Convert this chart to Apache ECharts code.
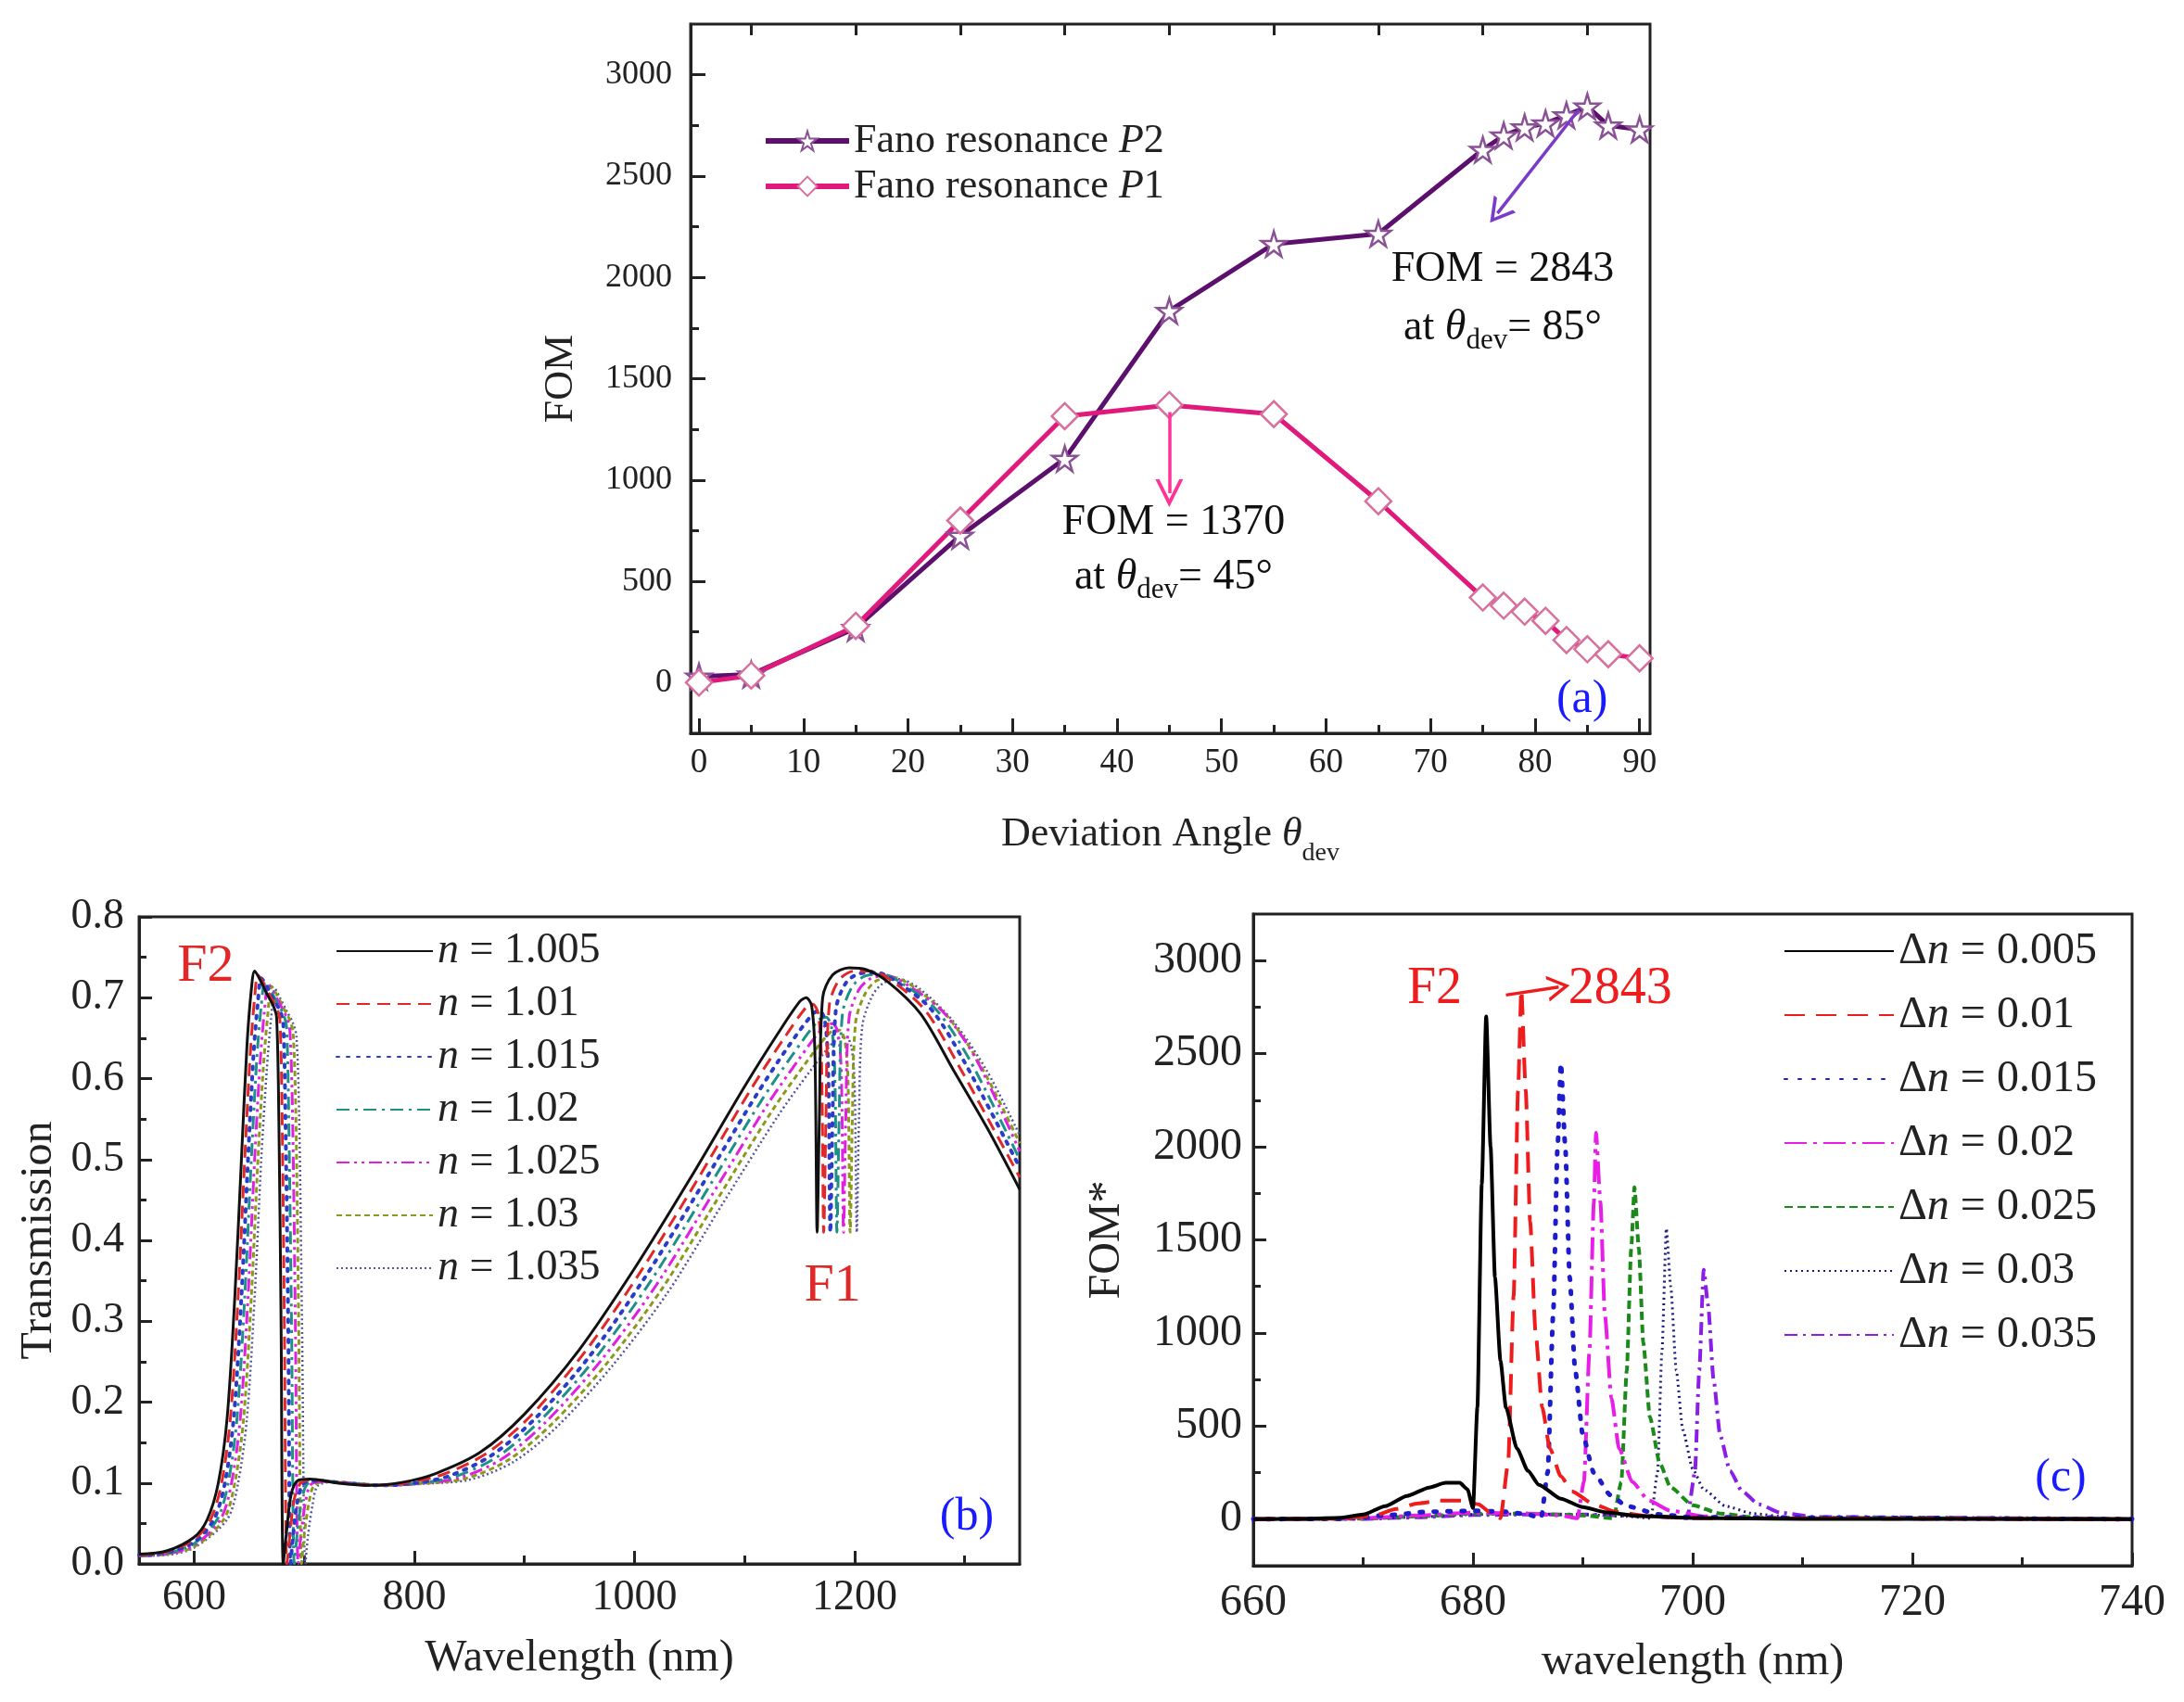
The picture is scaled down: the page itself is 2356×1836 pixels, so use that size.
<!DOCTYPE html>
<html>
<head>
<meta charset="utf-8">
<script src="https://cdn.jsdelivr.net/npm/echarts@6/dist/echarts.min.js"></script>
<style>
html,body{margin:0;padding:0;background:#fff;}
#chart{width:2356px;height:1836px;}
</style>
</head>
<body>
<div id="chart"></div>
<script>
// ---------- Panel (a) data ----------
const angleDeg = [0, 5, 15, 25, 35, 45, 55, 65, 75, 77, 79, 81, 83, 85, 87, 90];
const fomP2 = [30, 40, 270, 725, 1105, 1835, 2165, 2215, 2630, 2700, 2740, 2760, 2800, 2843, 2750, 2730];
const fomP1 = [0, 35, 280, 800, 1315, 1370, 1325, 895, 420, 380, 350, 305, 210, 165, 140, 120];
const angleMajorTicks = [0, 10, 20, 30, 40, 50, 60, 70, 80, 90];
const angleMinorTicks = [5, 15, 25, 35, 45, 55, 65, 75, 85];
const fomMajorTicks = [0, 500, 1000, 1500, 2000, 2500, 3000];
const fomMinorTicks = [250, 750, 1250, 1750, 2250, 2750];

// ---------- Panel (b) data: transmission spectra [wavelength nm, T] ----------
const transN1005 = [[550,.012],[575,.016],[600,.033],[612,.055],[622,.1],[630,.18],[637,.33],[643,.5],[648,.64],[652,.71],[655,.733],[660,.722],[666,.705],[672,.69],[675,.675],[677,.55],[679,.3],[681,0],[684,.04],[688,.085],[694,.103],[705,.105],[730,.1],[760,.097],[790,.101],[820,.112],[860,.138],[900,.185],[950,.265],[1000,.365],[1050,.475],[1100,.59],[1130,.655],[1150,.695],[1156,.7],[1161,.69],[1164,.63],[1166,.41],[1168,.55],[1171,.7],[1180,.728],[1195,.737],[1210,.735],[1230,.72],[1260,.68],[1290,.61],[1320,.54],[1350,.463]];
const transN1010 = [[550,.011],[575,.015],[600,.03],[615,.055],[625,.1],[633,.18],[640,.33],[646,.5],[651,.63],[655,.7],[658,.728],[663,.718],[669,.702],[675,.688],[678,.672],[680,.55],[682,.3],[684.3,0],[687,.035],[691,.08],[697,.1],[708,.104],[732,.1],[762,.097],[792,.1],[825,.11],[865,.136],[905,.182],[955,.262],[1005,.36],[1055,.47],[1105,.585],[1135,.648],[1157,.69],[1162,.692],[1167,.68],[1170,.62],[1172,.41],[1174,.55],[1177,.69],[1186,.722],[1200,.733],[1215,.733],[1235,.72],[1265,.683],[1295,.615],[1350,.478]];
const transN1015 = [[550,.011],[575,.014],[600,.027],[618,.055],[628,.1],[636,.18],[643,.33],[649,.5],[654,.63],[658,.695],[661,.724],[666,.714],[672,.698],[678,.684],[681,.668],[683,.55],[685.5,.3],[687.6,0],[690,.035],[694,.078],[700,.1],[712,.103],[735,.1],[765,.097],[795,.099],[830,.108],[870,.134],[910,.18],[960,.258],[1010,.355],[1060,.465],[1110,.578],[1140,.64],[1162,.68],[1168,.684],[1173,.672],[1176,.615],[1178,.41],[1180,.55],[1183,.685],[1192,.718],[1205,.73],[1220,.731],[1240,.718],[1270,.685],[1300,.62],[1350,.49]];
const transN1020 = [[550,.01],[575,.013],[600,.025],[621,.055],[631,.1],[639,.18],[646,.33],[652,.5],[657,.625],[661,.69],[664.5,.72],[669,.71],[675,.695],[681,.68],[684,.664],[686,.55],[688.5,.3],[691,0],[693.5,.035],[697.5,.077],[703,.099],[715,.103],[738,.1],[768,.097],[798,.099],[835,.107],[875,.132],[915,.178],[965,.255],[1015,.35],[1065,.46],[1115,.572],[1145,.632],[1167,.672],[1174,.676],[1179,.664],[1182,.61],[1184,.41],[1186,.55],[1189,.68],[1198,.714],[1210,.727],[1225,.729],[1245,.716],[1275,.684],[1305,.622],[1350,.5]];
const transN1025 = [[550,.01],[575,.012],[600,.023],[624,.055],[634,.1],[642,.18],[649,.33],[655,.5],[660,.62],[664,.685],[667.5,.717],[672,.707],[678,.692],[684,.676],[687,.66],[689.5,.55],[692,.3],[694.5,0],[697,.035],[701,.075],[706,.098],[718,.102],[741,.1],[771,.097],[801,.099],[840,.106],[880,.13],[920,.176],[970,.252],[1020,.345],[1070,.455],[1120,.566],[1150,.625],[1172,.664],[1180,.668],[1185,.656],[1188,.605],[1190,.41],[1192,.55],[1195,.675],[1204,.71],[1215,.724],[1230,.727],[1250,.714],[1280,.683],[1310,.625],[1350,.51]];
const transN1030 = [[550,.01],[575,.012],[600,.021],[627,.055],[637,.1],[645,.18],[652,.33],[658,.5],[663,.615],[667,.68],[670.5,.714],[675,.704],[681,.688],[687,.672],[690,.656],[692.5,.55],[695,.3],[697.6,0],[700,.035],[704,.073],[709,.097],[721,.102],[744,.1],[774,.097],[804,.099],[845,.105],[885,.128],[925,.173],[975,.248],[1025,.34],[1075,.45],[1125,.56],[1155,.618],[1177,.656],[1186,.66],[1191,.648],[1194,.6],[1196,.41],[1198,.55],[1201,.67],[1210,.706],[1220,.721],[1235,.725],[1255,.712],[1285,.676],[1315,.615],[1350,.52]];
const transN1035 = [[550,.01],[575,.011],[600,.02],[630,.055],[640,.1],[648,.18],[655,.33],[661,.5],[666,.61],[670,.675],[673.5,.711],[678,.7],[684,.684],[690,.668],[693,.652],[695.5,.55],[698,.3],[701,0],[703.5,.035],[707.5,.072],[712,.096],[724,.101],[747,.1],[777,.097],[807,.099],[850,.104],[890,.126],[930,.17],[980,.245],[1030,.335],[1080,.445],[1130,.553],[1160,.61],[1183,.648],[1192,.652],[1197,.64],[1200,.595],[1202,.41],[1204,.55],[1207,.665],[1216,.702],[1226,.718],[1240,.723],[1260,.71],[1290,.67],[1320,.61],[1350,.53]];
const transNames = ['n = 1.005','n = 1.01','n = 1.015','n = 1.02','n = 1.025','n = 1.03','n = 1.035'];
const waveMajorTicks = [600, 800, 1000, 1200];
const waveMinorTicks = [700, 900, 1100, 1300];

// ---------- Panel (c) data: FOM* spectra [wavelength nm, FOM*] ----------
const fomDn005 = [[660,0],[665,2],[668,8],[670,25],[672,70],[674,125],[676,170],[677.5,195],[678.8,195],[679.5,160],[680,60],[680.4,600],[680.8,1800],[681.2,2700],[681.6,2000],[682,1300],[682.5,850],[683,600],[684,380],[685,260],[686,185],[688,110],[690,65],[692,38],[695,18],[700,7],[710,2],[740,0]];
const fomDn010 = [[660,0],[668,3],[671,20],[673,55],[675,85],[677,100],[679,100],[680.5,80],[681.5,40],[682.5,5],[683.2,300],[683.7,1200],[684.1,2300],[684.4,2843],[684.8,2300],[685.2,1600],[685.7,1000],[686.3,600],[687,380],[688,230],[689,150],[691,80],[693,40],[696,15],[700,5],[740,0]];
const fomDn015 = [[660,0],[668,2],[672,20],[676,40],[680,45],[683,40],[685,25],[686.2,5],[686.8,250],[687.3,1100],[687.7,2000],[688,2450],[688.4,2000],[688.8,1300],[689.3,800],[690,450],[691,250],[692.5,130],[694,70],[697,25],[700,10],[740,0]];
const fomDn020 = [[660,0],[670,5],[675,20],[680,35],[685,30],[688,20],[689.5,5],[690.1,200],[690.6,900],[691,1700],[691.2,2075],[691.6,1700],[692,1100],[692.6,650],[693.3,380],[694.5,200],[696,100],[698,45],[701,15],[705,5],[740,0]];
const fomDn025 = [[660,0],[670,3],[675,15],[680,30],[685,30],[690,20],[692.8,5],[693.5,200],[694,800],[694.4,1450],[694.7,1783],[695.1,1450],[695.5,950],[696.1,550],[697,300],[698,170],[700,75],[702.5,30],[706,8],[740,0]];
const fomDn030 = [[660,0],[670,3],[675,12],[680,25],[685,28],[690,25],[694,15],[696.2,5],[696.8,250],[697.2,900],[697.6,1561],[698,1250],[698.5,800],[699.1,480],[700,270],[701,160],[703,70],[705.5,30],[709,8],[740,0]];
const fomDn035 = [[660,0],[670,2],[675,10],[680,22],[685,25],[690,25],[695,18],[698,10],[699.5,5],[700.2,250],[700.6,800],[701,1339],[701.4,1150],[701.9,750],[702.5,450],[703.4,260],[704.5,150],[706,80],[708,35],[711,12],[740,0]];
const fomNames = ['Δn = 0.005','Δn = 0.01','Δn = 0.015','Δn = 0.02','Δn = 0.025','Δn = 0.03','Δn = 0.035'];

// ---------- styles ----------
const FONT = "'Liberation Serif', 'DejaVu Serif', serif";
const AX = '#222';
const STAR = 'path://M50,0 L61,35 L98,35 L68,57 L79,91 L50,70 L21,91 L32,57 L2,35 L39,35 Z';
const CHEVRON = 'path://M0,10 L5,0 L10,10 L8.6,10 L5,2.8 L1.4,10 Z';
const plain = v => String(v);

const transStyles = [
  {color:'#111111', type:'solid', width:3},
  {color:'#e02828', type:[14,8], width:3},
  {color:'#2a3cc8', type:[3,8], width:4, cap:'round'},
  {color:'#1f8f88', type:[14,6,3,6], width:3},
  {color:'#e020e0', type:[14,5,3,5,3,5], width:3},
  {color:'#8c9a1c', type:[6,4], width:3},
  {color:'#55559a', type:[2,3], width:2.5}
];
const fomStyles = [
  {color:'#000000', type:'solid', width:4},
  {color:'#ee1c1c', type:[22,12], width:4},
  {color:'#1c1ccc', type:[3,12], width:5, cap:'round'},
  {color:'#e61ee6', type:[24,7,4,7], width:4},
  {color:'#1b8a1b', type:[9,5], width:4},
  {color:'#1c1c78', type:[2,4], width:3},
  {color:'#8a1ee6', type:[14,6,3,6], width:4}
];
const transData = [transN1005, transN1010, transN1015, transN1020, transN1025, transN1030, transN1035];
const fomData = [fomDn005, fomDn010, fomDn015, fomDn020, fomDn025, fomDn030, fomDn035];

function tickAxis(o){ return Object.assign({
  type:'value', splitLine:{show:false},
  axisLine:{show:true, onZero:false, lineStyle:{color:AX, width:3}},
  axisTick:{show:true, inside:true, length:14, lineStyle:{color:AX, width:3}},
  axisLabel:{show:true, color:'#222', fontFamily:FONT}
}, o); }
function minorAxis(o){ return Object.assign({
  type:'value', splitLine:{show:false}, axisLine:{show:false, onZero:false},
  axisLabel:{show:false},
}, o); }

const labelRich = {
  n:{fontFamily:FONT, fontSize:46, color:'#111', lineHeight:60, verticalAlign:'middle'},
  th:{fontFamily:FONT, fontSize:46, fontStyle:'italic', color:'#111', lineHeight:60, verticalAlign:'middle'},
  sub:{fontFamily:FONT, fontSize:31, color:'#111', lineHeight:60, verticalAlign:'bottom'}
};

const series = [];
// (a)
series.push({
  name:'Fano resonance P2', type:'line', xAxisIndex:0, yAxisIndex:0,
  data: angleDeg.map((a,i)=>[a, fomP2[i]]),
  symbol: STAR, symbolSize:27, showSymbol:true,
  lineStyle:{color:'#5c0f6c', width:5},
  itemStyle:{color:'#ffffff', borderColor:'#8a5295', borderWidth:2.5},
  z:3,
  markLine:{silent:true, symbol:['none', CHEVRON], symbolSize:[30,26], animation:false,
    lineStyle:{color:'#7a3cc8', width:3.5, type:'solid'}, label:{show:false},
    data:[[{coord:[84.2,2829]},{coord:[76.4,2316]}]]},
  markPoint:{symbol:'circle', symbolSize:0, animation:false, silent:true,
    label:{show:true, position:'inside', color:'#111', fontFamily:FONT, fontSize:46, rich:labelRich},
    data:[
      {coord:[76.9,2040], value:0, label:{formatter:'FOM = 2843'}},
      {coord:[76.9,1750], value:0, label:{formatter:'{n|at }{th|θ}{sub|dev}{n|= 85°}'}}
    ]}
});
series.push({
  name:'Fano resonance P1', type:'line', xAxisIndex:0, yAxisIndex:0,
  data: angleDeg.map((a,i)=>[a, fomP1[i]]),
  symbol:'diamond', symbolSize:[28,28], showSymbol:true,
  lineStyle:{color:'#e0197c', width:5},
  itemStyle:{color:'#ffffff', borderColor:'#d8709e', borderWidth:2.5},
  z:3,
  markLine:{silent:true, symbol:['none', CHEVRON], symbolSize:[30,30], animation:false,
    lineStyle:{color:'#ff3399', width:3.5, type:'solid'}, label:{show:false},
    data:[[{coord:[45,1335]},{coord:[45,935]}]]},
  markPoint:{symbol:'circle', symbolSize:0, animation:false, silent:true,
    label:{show:true, position:'inside', color:'#111', fontFamily:FONT, fontSize:46, rich:labelRich},
    data:[
      {coord:[45.4,790], value:0, label:{formatter:'FOM = 1370'}},
      {coord:[45.4,520], value:0, label:{formatter:'{n|at }{th|θ}{sub|dev}{n|= 45°}'}},
      {coord:[84.5,-85], value:0, label:{formatter:'(a)', color:'#1a1aff', fontSize:50}}
    ]}
});
// (b)
transData.forEach((d,i)=>{
  const s = {
    name: transNames[i], type:'line', xAxisIndex:3, yAxisIndex:2, data:d,
    symbol:'none', smooth:0.3,
    lineStyle: transStyles[i], itemStyle:{color:transStyles[i].color}, z: 10-i
  };
  if(i===0){
    s.markPoint = {symbol:'circle', symbolSize:0, animation:false, silent:true,
      label:{show:true, position:'inside', fontFamily:FONT, color:'#e02828', fontSize:58},
      data:[
        {coord:[610.5,0.738], value:0, label:{formatter:'F2'}},
        {coord:[1180,0.343], value:0, label:{formatter:'F1'}},
        {coord:[1302,0.058], value:0, label:{formatter:'(b)', color:'#1a1aff', fontSize:50}}
      ]};
  }
  series.push(s);
});
// (c)
fomData.forEach((d,i)=>{
  const s = {
    name: fomNames[i], type:'line', xAxisIndex:5, yAxisIndex:3, data:d,
    symbol:'none', smooth:0.2, smoothMonotone:'x',
    lineStyle: fomStyles[i], itemStyle:{color:fomStyles[i].color}, z: 10-i
  };
  if(i===1){
    s.markLine = {silent:true, symbol:['none', CHEVRON], symbolSize:[28,24], animation:false,
      lineStyle:{color:'#ee1c1c', width:3.5, type:'solid'}, label:{show:false},
      data:[[{coord:[683.0,2815]},{coord:[687.8,2858]}]]};
    s.markPoint = {symbol:'circle', symbolSize:0, animation:false, silent:true,
      label:{show:true, position:'inside', fontFamily:FONT, color:'#ee1c1c', fontSize:56},
      data:[
        {coord:[676.5,2845], value:0, label:{formatter:'F2'}},
        {coord:[693.4,2845], value:0, label:{formatter:'2843'}},
        {coord:[733.5,220], value:0, label:{formatter:'(c)', color:'#1a1aff', fontSize:50}}
      ]};
  }
  series.push(s);
});

const option = {
  backgroundColor:'#ffffff',
  animation:false,
  textStyle:{fontFamily:FONT},
  grid:[
    {left:745, top:26, width:1035, height:765, show:true, borderColor:AX, borderWidth:3, backgroundColor:'transparent'},
    {left:150, top:989, width:950, height:698, show:true, borderColor:AX, borderWidth:3, backgroundColor:'transparent'},
    {left:1352, top:986, width:948, height:703, show:true, borderColor:AX, borderWidth:3, backgroundColor:'transparent'}
  ],
  xAxis:[
    tickAxis({gridIndex:0, min:-0.8, max:91, position:'bottom',
      axisTick:{show:true, inside:true, length:16, customValues:angleMajorTicks, lineStyle:{color:AX, width:3}},
      axisLabel:{show:true, customValues:angleMajorTicks, color:'#222', fontFamily:FONT, fontSize:37, margin:14, formatter:plain},
      name:'Deviation Angle {th|θ}{sub|dev}', nameLocation:'middle', nameGap:74,
      nameTextStyle:{fontFamily:FONT, fontSize:44, color:'#222',
        rich:{th:{fontFamily:FONT, fontSize:44, fontStyle:'italic', color:'#222', lineHeight:70, verticalAlign:'middle'},
              sub:{fontFamily:FONT, fontSize:28, color:'#222', lineHeight:70, verticalAlign:'bottom'}}}}),
    minorAxis({gridIndex:0, min:-0.8, max:91, position:'bottom',
      axisTick:{show:true, inside:true, length:9, customValues:angleMinorTicks, lineStyle:{color:AX, width:3}}}),
    minorAxis({gridIndex:0, min:-0.8, max:91, position:'top',
      axisTick:{show:true, inside:true, length:12, customValues:angleMinorTicks, lineStyle:{color:AX, width:3}}}),
    tickAxis({gridIndex:1, min:550, max:1350, position:'bottom',
      axisTick:{show:true, inside:true, length:14, customValues:waveMajorTicks, lineStyle:{color:AX, width:3}},
      axisLabel:{show:true, customValues:waveMajorTicks, color:'#222', fontFamily:FONT, fontSize:46, margin:14, formatter:plain},
      name:'Wavelength (nm)', nameLocation:'middle', nameGap:78,
      nameTextStyle:{fontFamily:FONT, fontSize:48, color:'#222'}}),
    minorAxis({gridIndex:1, min:550, max:1350, position:'bottom',
      axisTick:{show:true, inside:true, length:9, customValues:waveMinorTicks, lineStyle:{color:AX, width:3}}}),
    tickAxis({gridIndex:2, min:660, max:740, interval:20, position:'bottom',
      axisTick:{show:true, inside:true, length:14, lineStyle:{color:AX, width:3}},
      minorTick:{show:true, splitNumber:2, length:9, lineStyle:{color:AX, width:3}},
      axisLabel:{show:true, color:'#222', fontFamily:FONT, fontSize:48, margin:16, formatter:plain},
      name:'wavelength (nm)', nameLocation:'middle', nameGap:80,
      nameTextStyle:{fontFamily:FONT, fontSize:48, color:'#222'}})
  ],
  yAxis:[
    tickAxis({gridIndex:0, min:-250, max:3250, position:'left',
      axisTick:{show:true, inside:true, length:16, customValues:fomMajorTicks, lineStyle:{color:AX, width:3}},
      axisLabel:{show:true, customValues:fomMajorTicks, color:'#222', fontFamily:FONT, fontSize:36, margin:20, formatter:plain},
      name:'FOM', nameLocation:'middle', nameGap:118,
      nameTextStyle:{fontFamily:FONT, fontSize:44, color:'#222'}}),
    minorAxis({gridIndex:0, min:-250, max:3250, position:'left',
      axisTick:{show:true, inside:true, length:9, customValues:fomMinorTicks, lineStyle:{color:AX, width:3}}}),
    tickAxis({gridIndex:1, min:0, max:0.8, interval:0.1, position:'left',
      axisTick:{show:true, inside:true, length:14, lineStyle:{color:AX, width:3}},
      minorTick:{show:true, splitNumber:2, length:8, lineStyle:{color:AX, width:3}},
      axisLabel:{show:true, color:'#222', fontFamily:FONT, fontSize:46, margin:16, formatter:v=>v.toFixed(1)},
      name:'Transmission', nameLocation:'middle', nameGap:84,
      nameTextStyle:{fontFamily:FONT, fontSize:48, color:'#222'}}),
    tickAxis({gridIndex:2, min:-250, max:3250, position:'left',
      axisTick:{show:true, inside:true, length:14, customValues:fomMajorTicks, lineStyle:{color:AX, width:3}},
      axisLabel:{show:true, customValues:fomMajorTicks, color:'#222', fontFamily:FONT, fontSize:48, margin:12, formatter:plain},
      name:'FOM*', nameLocation:'middle', nameGap:134,
      nameTextStyle:{fontFamily:FONT, fontSize:48, color:'#222'}}),
    minorAxis({gridIndex:2, min:-250, max:3250, position:'left',
      axisTick:{show:true, inside:true, length:8, customValues:fomMinorTicks, lineStyle:{color:AX, width:3}}})
  ],
  legend:[
    {data:['Fano resonance P2','Fano resonance P1'], orient:'vertical', left:818, top:124,
      itemWidth:90, itemHeight:26, itemGap:3, selectedMode:false,
      lineStyle:{width:6},
      formatter: n => n.replace('P', '{i|P}'),
      textStyle:{fontFamily:FONT, fontSize:44, color:'#222', lineHeight:46,
        rich:{i:{fontFamily:FONT, fontSize:44, fontStyle:'italic', color:'#222'}}}},
    {data:transNames, orient:'vertical', left:357, top:998,
      itemWidth:104, itemHeight:20, itemGap:11, selectedMode:false,
      itemStyle:{opacity:0},
      formatter: n => n.replace('n', '{i|n}'),
      textStyle:{fontFamily:FONT, fontSize:46, color:'#222', lineHeight:46,
        rich:{i:{fontFamily:FONT, fontSize:46, fontStyle:'italic', color:'#222'}}}},
    {data:fomNames, orient:'vertical', left:1919, top:996,
      itemWidth:118, itemHeight:20, itemGap:19, selectedMode:false,
      itemStyle:{opacity:0},
      formatter: n => n.replace('n', '{i|n}'),
      textStyle:{fontFamily:FONT, fontSize:48, color:'#222', lineHeight:50,
        rich:{i:{fontFamily:FONT, fontSize:48, fontStyle:'italic', color:'#222'}}}}
  ],
  series: series
};
const chart = echarts.init(document.getElementById('chart'), null, {renderer:'canvas'});
chart.setOption(option);
</script>
</body>
</html>
